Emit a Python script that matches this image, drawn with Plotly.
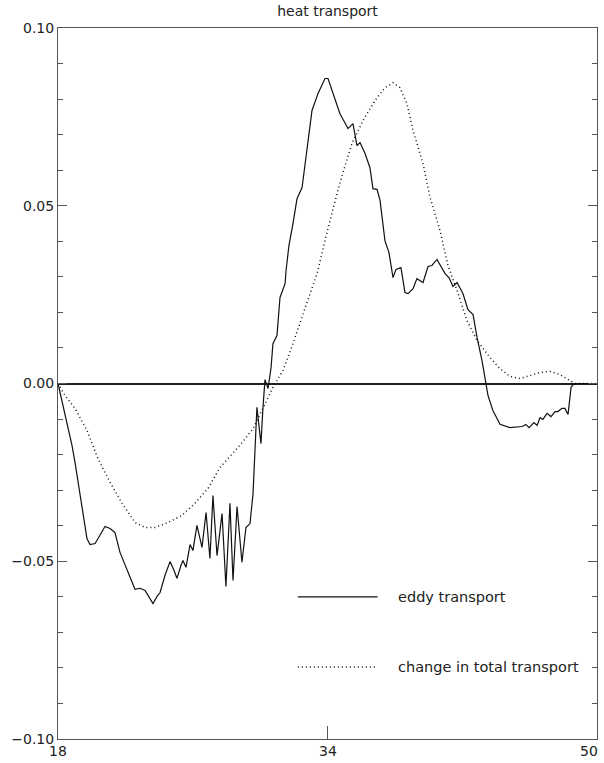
import plotly.graph_objects as go

# Eddy transport (solid)
eddy_x = [18.00, 18.12, 18.36, 18.59, 18.83, 19.01, 19.25, 19.42, 19.72, 19.90,
          20.20, 20.49, 20.79, 21.09, 21.38, 21.68, 21.92, 22.27, 22.57, 22.87,
          23.17, 23.46, 23.64, 23.88, 24.06, 24.35, 24.65, 24.89, 25.06, 25.30,
          25.42, 25.60, 25.84, 26.01, 26.25, 26.55, 26.79, 27.02, 27.20, 27.44,
          27.74, 27.97, 28.21, 28.39, 28.63, 28.92, 29.16, 29.40, 29.58, 29.81,
          29.87, 30.05, 30.17, 30.29, 30.47, 30.65, 30.76, 31.00, 31.18, 31.48,
          31.54, 31.71, 31.95, 32.19, 32.49, 32.78, 33.08, 33.44, 33.85, 34.03,
          34.33, 34.74, 35.22, 35.51, 35.75, 35.93, 36.23, 36.52, 36.70, 36.94,
          37.12, 37.41, 37.65, 37.89, 38.07, 38.36, 38.60, 38.78, 39.08, 39.31,
          39.67, 39.97, 40.20, 40.50, 40.98, 41.21, 41.45, 41.69, 42.04, 42.34,
          42.64, 42.88, 43.17, 43.41, 43.53, 43.82, 44.24, 44.83, 45.55, 45.78,
          45.96, 46.26, 46.44, 46.62, 46.79, 47.03, 47.27, 47.51, 47.68, 47.92,
          48.10, 48.28, 48.46, 48.57, 48.81, 50.00]
eddy_y = [0.0, -0.0025, -0.0076, -0.0118, -0.0174, -0.0222, -0.0295, -0.0352, -0.0436, -0.0453,
          -0.0450, -0.0427, -0.0402, -0.0408, -0.0419, -0.0475, -0.0504, -0.0548, -0.0579, -0.0576,
          -0.0582, -0.0605, -0.0619, -0.0599, -0.0588, -0.0540, -0.0501, -0.0526, -0.0548, -0.0512,
          -0.0498, -0.0517, -0.0453, -0.0470, -0.0399, -0.0461, -0.0363, -0.0492, -0.0315, -0.0484,
          -0.0366, -0.0571, -0.0337, -0.0554, -0.0346, -0.0503, -0.0405, -0.0394, -0.0309, -0.0067,
          -0.0096, -0.0169, -0.0067, 0.0011, -0.0014, 0.0045, 0.0112, 0.0135, 0.0242, 0.0281,
          0.0318, 0.0388, 0.0450, 0.0520, 0.0551, 0.0655, 0.0768, 0.0816, 0.0858, 0.0858,
          0.0816, 0.0759, 0.0717, 0.0731, 0.0669, 0.0678, 0.0647, 0.0607, 0.0548, 0.0546,
          0.0515, 0.0402, 0.0368, 0.0298, 0.0321, 0.0326, 0.0256, 0.0253, 0.0267, 0.0295,
          0.0284, 0.0329, 0.0332, 0.0349, 0.0309, 0.0298, 0.0273, 0.0284, 0.0253, 0.0208,
          0.0194, 0.0129, 0.0065, 0.0, -0.0034, -0.0076, -0.0115, -0.0124, -0.0121, -0.0115,
          -0.0124, -0.0110, -0.0118, -0.0096, -0.0101, -0.0084, -0.0093, -0.0079, -0.0079, -0.0070,
          -0.0070, -0.0087, -0.0011, -0.0003, 0.0, 0.0]

# Change in total transport (dotted)
total_x = [18.00, 18.42, 19.01, 19.72, 20.37, 21.09, 21.80, 22.57, 23.17, 23.76,
           24.53, 25.36, 26.13, 26.91, 27.62, 28.80, 29.58, 30.17, 30.76, 31.36,
           31.95, 32.66, 33.38, 33.97, 34.74, 35.45, 36.11, 36.82, 37.41, 37.89,
           38.30, 38.72, 39.08, 39.67, 40.09, 40.68, 41.15, 41.69, 42.28, 42.88,
           43.65, 44.24, 44.83, 45.43, 46.02, 46.62, 47.21, 47.80, 48.40, 48.69, 50.00]
total_y = [0.0, -0.0034, -0.0070, -0.0132, -0.0211, -0.0278, -0.0337, -0.0391, -0.0405, -0.0405,
           -0.0391, -0.0371, -0.0337, -0.0295, -0.0236, -0.0174, -0.0127, -0.0067, -0.0011, 0.0037,
           0.0112, 0.0211, 0.0309, 0.0425, 0.0565, 0.0675, 0.0740, 0.0796, 0.0832, 0.0846,
           0.0832, 0.0787, 0.0711, 0.0619, 0.0523, 0.0430, 0.0332, 0.0262, 0.0177, 0.0121,
           0.0073, 0.0042, 0.0020, 0.0014, 0.0022, 0.0031, 0.0034, 0.0025, 0.0008, 0.0, 0.0]

x_ticks = [18, 34, 50]
x_ticklabels = ["18", "34", "50"]
y_ticks = [-0.10, -0.05, 0.0, 0.05, 0.10]
legend_labels = ["eddy transport", "change in total transport"]
title_text = "heat transport"

FONT = "DejaVu Sans"
TXT = "#222222"
AX = "#555555"

fig = go.Figure()
fig.add_trace(go.Scatter(x=eddy_x, y=eddy_y, mode="lines",
                         line=dict(color="#111111", width=1.2), showlegend=False))
fig.add_trace(go.Scatter(x=total_x, y=total_y, mode="lines",
                         line=dict(color="#111111", width=1.5, dash="1px,3px"), showlegend=False))

# legend drawn inside the plot
leg_y = [0.1998, 0.1013]  # paper y for legend rows
for i, (lab, dash) in enumerate(zip(legend_labels, ["solid", "1px,3px"])):
    fig.add_trace(go.Scatter(x=[0.445, 0.593], y=[leg_y[i], leg_y[i]], xaxis="x2", yaxis="y2",
                             mode="lines", showlegend=False, hoverinfo="skip",
                             line=dict(color="#111111", width=1.2 if i == 0 else 1.5, dash=dash)))
    fig.add_annotation(x=0.627, y=leg_y[i], xref="paper", yref="paper", text=lab,
                       showarrow=False, xanchor="left", yanchor="middle",
                       font=dict(family=FONT, size=14.5, color=TXT))

# x tick labels as annotations (the last one sits left of the frame corner)
for v, t in zip(x_ticks, x_ticklabels):
    fig.add_annotation(x=v, y=0, xref="x", yref="paper", text=t, showarrow=False,
                       xanchor="right" if v == 50 else "center", yanchor="top",
                       yshift=-2, xshift=3 if v == 50 else 0,
                       font=dict(family=FONT, size=14, color=TXT))

fig.update_layout(
    width=604, height=763,
    margin=dict(l=58, r=7, t=28, b=24),
    paper_bgcolor="white", plot_bgcolor="white",
    title=dict(text=title_text, x=0.5, xref="paper", xanchor="center",
               y=0.985, yref="container", yanchor="middle",
               font=dict(family=FONT, size=14, color=TXT)),
    xaxis=dict(range=[18, 50], tickvals=x_ticks, showticklabels=False,
               ticks="inside", ticklen=13, tickcolor=AX, tickwidth=1,
               showline=True, linecolor=AX, linewidth=1, mirror=True,
               showgrid=False, zeroline=False),
    yaxis=dict(range=[-0.10, 0.10], tickvals=y_ticks, tickformat=".2f",
               ticks="inside", ticklen=9, tickcolor=AX, tickwidth=1,
               minor=dict(dtick=0.01, ticks="inside", ticklen=5, tickcolor=AX, tickwidth=1),
               showline=True, linecolor=AX, linewidth=1, mirror="allticks",
               showgrid=False, zeroline=True, zerolinecolor="#222222", zerolinewidth=2,
               tickfont=dict(family=FONT, size=14, color=TXT)),
    xaxis2=dict(range=[0, 1], overlaying="x", visible=False),
    yaxis2=dict(range=[0, 1], overlaying="y", visible=False),
)

fig.write_html("out.html")
